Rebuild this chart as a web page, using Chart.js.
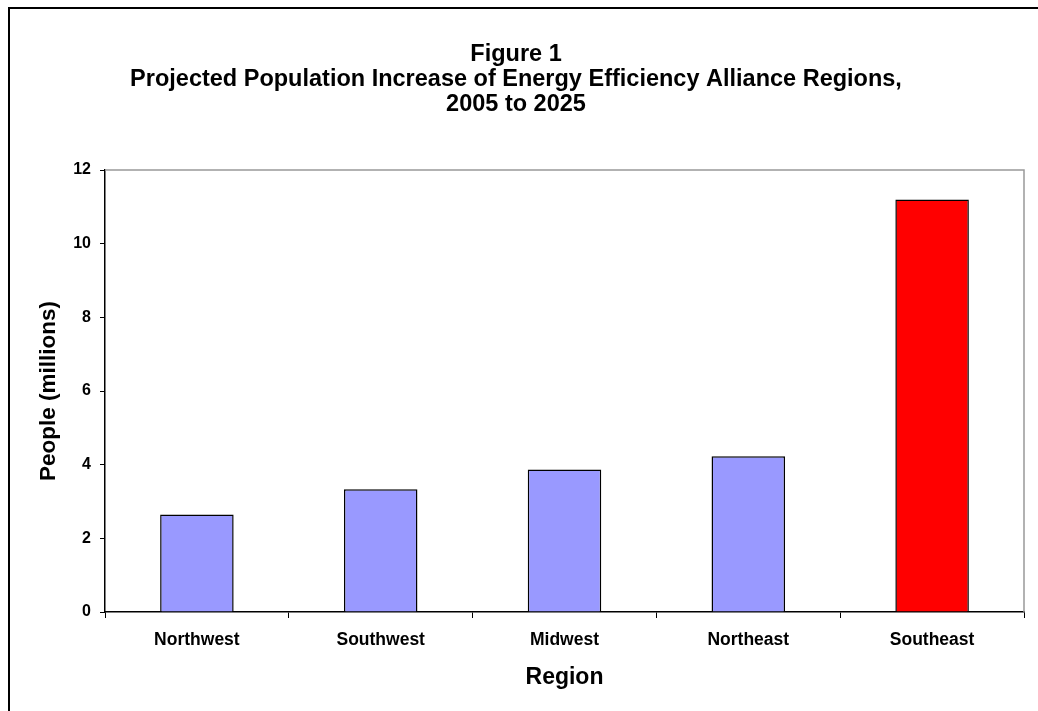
<!DOCTYPE html>
<html>
<head>
<meta charset="utf-8">
<script src="https://cdn.jsdelivr.net/npm/chart.js@4.4.0/dist/chart.umd.min.js"></script>
<style>
    html, body { margin: 0; padding: 0; background: #fff; }
    #wrap { position: relative; width: 1038px; height: 711px; overflow: hidden; }
    #frame { position: absolute; left: 8px; top: 7px; width: 1100px; height: 800px;
             border-top: 2px solid #000; border-left: 2px solid #000; }
    canvas { position: absolute; left: 0; top: 0; }
</style>
</head>
<body>
<div id="wrap">
    <div id="frame"></div>
    <canvas id="chart" width="1038" height="711"></canvas>
</div>
<script>
// chart data
const regions = ['Northwest', 'Southwest', 'Midwest', 'Northeast', 'Southeast'];
const peopleMillions = [2.65, 3.33, 3.87, 4.23, 11.2];
const barColors = ['#9999FF', '#9999FF', '#9999FF', '#9999FF', '#FF0000'];
const titleLines = ['Figure 1', 'Projected Population Increase of Energy Efficiency Alliance Regions,', '2005 to 2025'];

const FONT = '"Liberation Sans", Arial, sans-serif';

// title + gray top/right border of plot area
const decorations = {
    id: 'decorations',
    afterDraw(chart) {
        const ctx = chart.ctx;
        const area = chart.chartArea;
        ctx.save();
        ctx.strokeStyle = '#999';
        ctx.lineWidth = 1.5;
        ctx.beginPath();
        ctx.moveTo(area.left, area.top);
        ctx.lineTo(area.right, area.top);
        ctx.lineTo(area.right, area.bottom);
        ctx.stroke();

        ctx.fillStyle = '#000';
        ctx.font = 'bold 23.5px ' + FONT;
        ctx.textAlign = 'center';
        ctx.textBaseline = 'middle';
        titleLines.forEach((line, i) => {
            ctx.fillText(line, 516, 55 + i * 25);
        });
        ctx.restore();
    }
};

new Chart(document.getElementById('chart').getContext('2d'), {
    type: 'bar',
    data: {
        labels: regions,
        datasets: [{
            data: peopleMillions,
            backgroundColor: barColors,
            borderColor: '#000',
            borderWidth: 1.5,
            barPercentage: 0.8,
            categoryPercentage: 0.5
        }]
    },
    options: {
        responsive: false,
        animation: false,
        layout: { padding: { top: 170, right: 14, left: 0, bottom: 0 } },
        plugins: {
            legend: { display: false },
            tooltip: { enabled: false },
            title: { display: false }
        },
        scales: {
            x: {
                grid: { offset: true, drawOnChartArea: false, drawTicks: true, tickLength: 6, color: '#000' },
                border: { color: '#000', width: 1.5 },
                ticks: { color: '#000', padding: 12, font: { family: FONT, size: 17.5, weight: 'bold' } },
                title: {
                    display: true, text: 'Region', color: '#000',
                    font: { family: FONT, size: 23, weight: 'bold' },
                    padding: { top: 0, bottom: 20 }
                },
                afterFit(scale) { scale.height = 711 - 612; }
            },
            y: {
                min: 0, max: 12,
                grid: { drawOnChartArea: false, drawTicks: true, tickLength: 5, color: '#000' },
                border: { color: '#000', width: 1.5 },
                ticks: { stepSize: 2, color: '#000', padding: 9, font: { family: FONT, size: 16, weight: 'bold' } },
                title: {
                    display: true, text: 'People (millions)', color: '#000',
                    font: { family: FONT, size: 22.5, weight: 'bold' },
                    padding: { top: 35, bottom: 0 }
                },
                afterFit(scale) { scale.width = 105; }
            }
        }
    },
    plugins: [decorations]
});
</script>
</body>
</html>
